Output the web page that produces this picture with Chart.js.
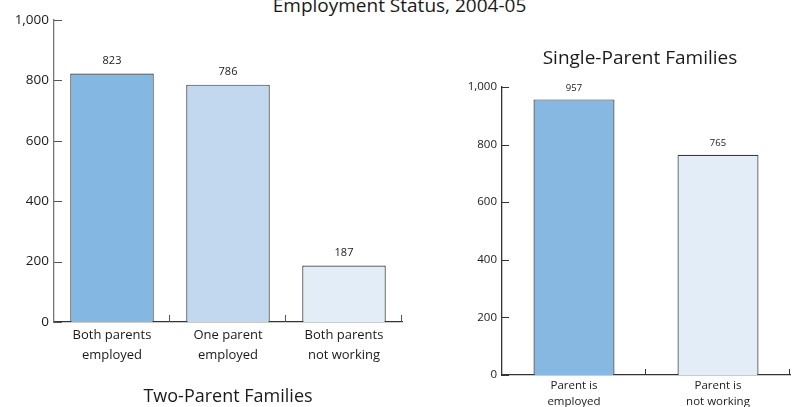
<!DOCTYPE html>
<html>
<head>
<meta charset="utf-8">
<script src="https://cdn.jsdelivr.net/npm/chart.js@4/dist/chart.umd.min.js"></script>
<style>
  html, body { margin:0; padding:0; background:#fff; }
  body { width:799px; height:407px; position:relative; overflow:hidden; font-family:"Open Sans", sans-serif; color:#1a1a1a; }
  .box { position:absolute; }
  .ttl { position:absolute; white-space:nowrap; text-align:center; line-height:1; color:#1a1a1a; }
</style>
</head>
<body>
<div class="ttl" id="mainTitle" style="left:0; width:799px; top:-4px; font-size:19px;">Employment Status, 2004-05</div>
<div class="box" style="left:0; top:0; width:420px; height:407px;"><canvas id="c1" width="420" height="407"></canvas></div>
<div class="box" style="left:440px; top:0; width:359px; height:407px;"><canvas id="c2" width="359" height="407"></canvas></div>
<div class="ttl" id="t1" style="left:54px; width:348px; top:386px; font-size:18px;">Two-Parent Families</div>
<div class="ttl" id="t2" style="left:480px; width:320px; top:48px; font-size:19px;">Single-Parent Families</div>
<script>
// ---- data ----
const twoParentCategories = [["Both parents","employed"],["One parent","employed"],["Both parents","not working"]];
const twoParentValues = [823, 786, 187];
const twoParentColors = ["#84b7e1", "#c2d8ef", "#e2edf8"];
const singleParentCategories = [["Parent is","employed"],["Parent is","not working"]];
const singleParentValues = [957, 765];
const singleParentColors = ["#87b8e2", "#e2edf8"];
const yTicks = [0, 200, 400, 600, 800, 1000];

const FONT = "'Open Sans', sans-serif";

function makePlugin(cfg) {
  return {
    id: 'decor',
    afterDatasetsDraw(chart) {
      const ctx = chart.ctx;
      const ca = chart.chartArea;
      const ys = chart.scales.y, xs = chart.scales.x;
      ctx.save();
      ctx.strokeStyle = cfg.tickColor;
      ctx.lineWidth = 1;
      yTicks.forEach(v => {
        const y = Math.round(ys.getPixelForValue(v)) + 0.5;
        ctx.beginPath();
        ctx.moveTo(ca.left, y);
        ctx.lineTo(ca.left + cfg.yTickLen, y);
        ctx.stroke();
      });
      const n = xs.ticks.length;
      for (let i = 1; i <= n; i++) {
        let x;
        if (i < n) x = (xs.getPixelForTick(i - 1) + xs.getPixelForTick(i)) / 2;
        else x = ca.right;
        x = Math.round(x) - 0.5;
        ctx.beginPath();
        ctx.moveTo(x, ca.bottom);
        ctx.lineTo(x, ca.bottom - cfg.xTickLen);
        ctx.stroke();
      }
      const meta = chart.getDatasetMeta(0);
      ctx.fillStyle = '#1a1a1a';
      ctx.font = cfg.valueFont + 'px ' + FONT;
      ctx.textAlign = 'center';
      ctx.textBaseline = 'middle';
      meta.data.forEach((bar, i) => {
        ctx.fillText(String(chart.data.datasets[0].data[i]), bar.x, bar.y - cfg.valueOffset);
      });
      ctx.restore();
    }
  };
}

function makeChart(id, cats, vals, colors, o) {
  return new Chart(document.getElementById(id), {
    type: 'bar',
    data: {
      labels: cats,
      datasets: [{
        data: vals,
        backgroundColor: colors,
        borderColor: '#3a3a3a',
        borderWidth: 1.2,
        borderSkipped: 'start',
        barPercentage: o.barPct,
        categoryPercentage: 1.0
      }]
    },
    options: {
      responsive: false,
      animation: false,
      layout: { padding: { top: o.padTop, right: o.padRight, bottom: 0, left: 0 } },
      plugins: { legend: { display: false }, tooltip: { enabled: false }, title: { display: false } },
      scales: {
        x: {
          grid: { display: false, drawTicks: false },
          border: { display: true, color: o.xAxisColor, width: 1.3 },
          ticks: { color: '#1a1a1a', font: { family: FONT, size: o.catFont, lineHeight: o.catLH }, padding: o.catPad, maxRotation: 0, autoSkip: false },
          afterFit(s) { s.height = o.xHeight; }
        },
        y: {
          min: 0, max: 1000,
          afterBuildTicks(s) { s.ticks = yTicks.map(v => ({ value: v })); },
          grid: { display: false, drawTicks: false },
          border: { display: true, color: o.yAxisColor, width: 1.3 },
          ticks: { color: '#1a1a1a', font: { family: FONT, size: o.yFont }, padding: o.yPad,
                   callback: v => v.toLocaleString('en-US') },
          afterFit(s) { s.width = o.yWidth; }
        }
      }
    },
    plugins: [makePlugin(o)]
  });
}

makeChart('c1', twoParentCategories, twoParentValues, twoParentColors, {
  barPct: 0.72, padTop: 20, padRight: 18, xHeight: 85, yWidth: 54,
  catFont: 13, catLH: 1.5, catPad: 4, yFont: 13.5, yPad: 5,
  xAxisColor: '#333', yAxisColor: '#777', tickColor: '#555',
  yTickLen: 8, xTickLen: 7, valueFont: 11, valueOffset: 13
});
makeChart('c2', singleParentCategories, singleParentValues, singleParentColors, {
  barPct: 0.5625, padTop: 87, padRight: 9, xHeight: 32, yWidth: 62,
  catFont: 11.5, catLH: 1.35, catPad: 3, yFont: 11.5, yPad: 5,
  xAxisColor: '#333', yAxisColor: '#333', tickColor: '#333',
  yTickLen: 7, xTickLen: 6, valueFont: 9.5, valueOffset: 11
});
</script>
</body>
</html>
